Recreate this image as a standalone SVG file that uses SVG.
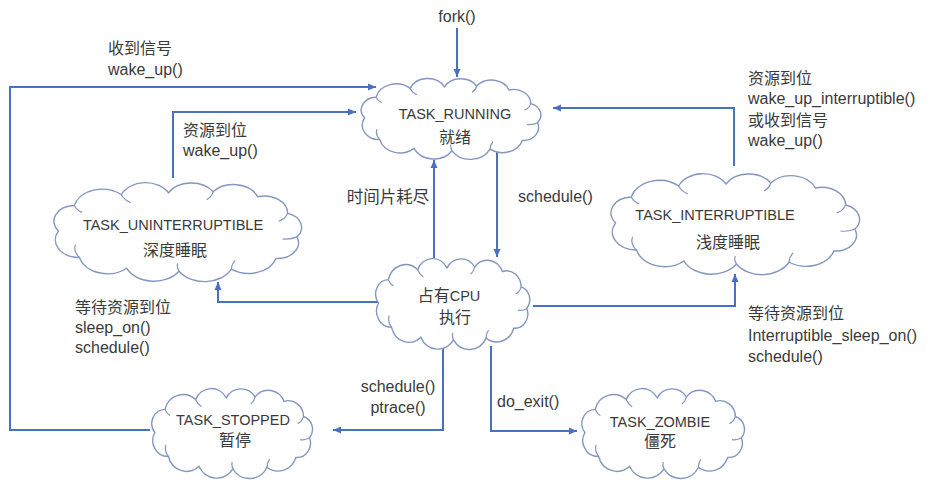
<svg xmlns="http://www.w3.org/2000/svg" xmlns:xlink="http://www.w3.org/1999/xlink" width="932" height="483" viewBox="0 0 932 483">
<style>
  .bg{fill:#ffffff}
  .conn{fill:none;stroke:#4A70C0;stroke-width:2}
  .cshape{fill:#ffffff;stroke:#8496C0;stroke-width:1.4;vector-effect:non-scaling-stroke}
  .seam{fill:none;stroke:#8496C0;stroke-width:1.2;vector-effect:non-scaling-stroke}
  text{font-family:"Liberation Sans","Noto Sans CJK SC",sans-serif;fill:#3a3a3a;font-size:16px}
  .nl{font-size:14.5px}
  .cj{font-size:16px}
  .mid{text-anchor:middle}
</style>
<defs>
  <marker id="ah" markerUnits="userSpaceOnUse" markerWidth="9" markerHeight="8" refX="8" refY="4" orient="auto">
    <path d="M0,0.5 L8,4 L0,7.5 z" fill="#4A70C0"/>
  </marker>
  <symbol id="cloud" viewBox="0 0 200 100" preserveAspectRatio="none" overflow="visible">
    <path class="cshape" fill="#ffffff" stroke="#8496C0" d="M8 50 A16 16 0 0 1 20 24 A22 22 0 0 1 56 13 A20 20 0 0 1 92 11 A20 20 0 0 1 126 10 A20 20 0 0 1 160 15 A18 18 0 0 1 183 32 A15 15 0 0 1 190 56 A16 16 0 0 1 174 78 A22 22 0 0 1 140 89 A23 23 0 0 1 100 91 A23 23 0 0 1 60 88 A22 22 0 0 1 24 77 A18 18 0 0 1 8 50 Z"/>
    <path class="seam" fill="none" stroke="#8496C0" d="M24 77 Q19 71 21 64 M56 13 Q58 18 63 21 M126 10 Q125 15 121 18 M183 32 Q181 38 176 40 M190 56 Q185 59 179 58 M140 89 Q140 84 143 80 M100 91 Q98 87 99 83 M20 24 Q22 29 26 31"/>
  </symbol>
</defs>
<rect class="bg" x="0" y="0" width="932" height="483"/>

<g id="connectors">
  <path class="conn" d="M457 28 L457 77" marker-end="url(#ah)"/>
  <path class="conn" d="M150 430 L10 430 L10 87 L376 87" marker-end="url(#ah)"/>
  <path class="conn" d="M173 178 L173 112 L356 112" marker-end="url(#ah)"/>
  <path class="conn" d="M734 166 L734 108 L553 108" marker-end="url(#ah)"/>
  <path class="conn" d="M434 258 L434 160" marker-end="url(#ah)"/>
  <path class="conn" d="M497 150 L497 257" marker-end="url(#ah)"/>
  <path class="conn" d="M378 302 L218 302 L218 282" marker-end="url(#ah)"/>
  <path class="conn" d="M533 306 L735 306 L735 274" marker-end="url(#ah)"/>
  <path class="conn" d="M443 348 L443 430 L333 430" marker-end="url(#ah)"/>
  <path class="conn" d="M491 346 L491 431 L577 431" marker-end="url(#ah)"/>
</g>

<g id="edge-labels">
  <text class="mid" x="457" y="22">fork()</text>
  <text x="108" y="54" class="cj">收到信号</text>
  <text x="108" y="75">wake_up()</text>
  <text x="183" y="136" class="cj">资源到位</text>
  <text x="183" y="156">wake_up()</text>
  <text x="748" y="84" class="cj">资源到位</text>
  <text x="748" y="104">wake_up_interruptible()</text>
  <text x="748" y="126" class="cj">或收到信号</text>
  <text x="748" y="146">wake_up()</text>
  <text class="mid" x="388" y="203" style="font-size:16.5px">时间片耗尽</text>
  <text x="518" y="202">schedule()</text>
  <text x="75" y="313" class="cj">等待资源到位</text>
  <text x="75" y="333">sleep_on()</text>
  <text x="75" y="353">schedule()</text>
  <text x="748" y="319" class="cj">等待资源到位</text>
  <text x="748" y="341">Interruptible_sleep_on()</text>
  <text x="748" y="362">schedule()</text>
  <text class="mid" x="398" y="392">schedule()</text>
  <text class="mid" x="398" y="413">ptrace()</text>
  <text x="497" y="407">do_exit()</text>
</g>

<g id="node-running">
  <use xlink:href="#cloud" href="#cloud" x="357" y="78" width="190" height="80"/>
  <text class="mid nl" x="455" y="119">TASK_RUNNING</text>
  <text class="mid cj" x="455" y="143">就绪</text>
</g>
<g id="node-uninterruptible">
  <use xlink:href="#cloud" href="#cloud" x="48" y="182" width="262" height="98"/>
  <text class="mid nl" x="173" y="230">TASK_UNINTERRUPTIBLE</text>
  <text class="mid cj" x="175" y="256">深度睡眠</text>
</g>
<g id="node-interruptible">
  <use xlink:href="#cloud" href="#cloud" x="605" y="173" width="263" height="100"/>
  <text class="mid nl" x="715" y="220">TASK_INTERRUPTIBLE</text>
  <text class="mid cj" x="728" y="248">浅度睡眠</text>
</g>
<g id="node-cpu">
  <use xlink:href="#cloud" href="#cloud" x="372" y="258" width="163" height="90"/>
  <text class="mid" x="449" y="301"><tspan class="cj">占有</tspan><tspan class="nl">CPU</tspan></text>
  <text class="mid cj" x="455" y="323">执行</text>
</g>
<g id="node-stopped">
  <use xlink:href="#cloud" href="#cloud" x="148" y="388" width="170" height="89"/>
  <text class="mid nl" x="233" y="425">TASK_STOPPED</text>
  <text class="mid cj" x="235" y="446">暂停</text>
</g>
<g id="node-zombie">
  <use xlink:href="#cloud" href="#cloud" x="578" y="388" width="172" height="89"/>
  <text class="mid nl" x="660" y="427">TASK_ZOMBIE</text>
  <text class="mid cj" x="660" y="447">僵死</text>
</g>
</svg>
